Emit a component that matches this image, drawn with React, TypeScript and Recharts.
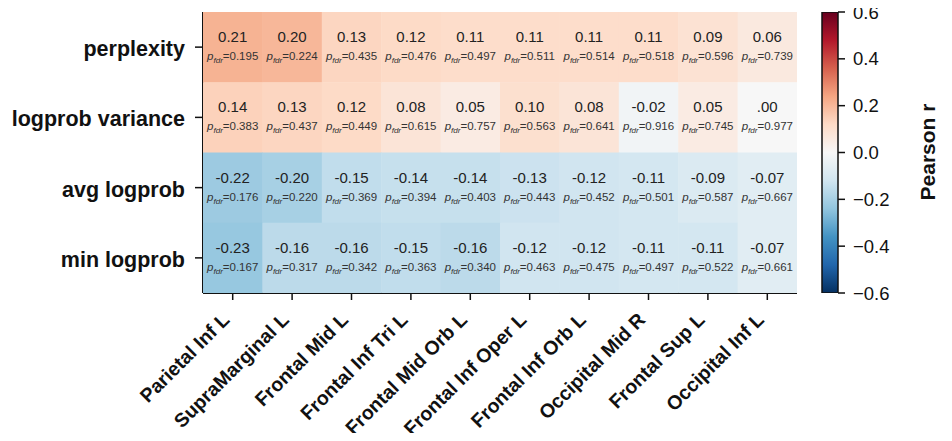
import { ScatterChart, Scatter, XAxis, YAxis, BarChart, Bar } from 'recharts';

const columns = [
  'Parietal Inf L', 'SupraMarginal L', 'Frontal Mid L', 'Frontal Inf Tri L', 'Frontal Mid Orb L',
  'Frontal Inf Oper L', 'Frontal Inf Orb L', 'Occipital Mid R', 'Frontal Sup L', 'Occipital Inf L',
];
const rows = ['perplexity', 'logprob variance', 'avg logprob', 'min logprob'];

// Pearson r per row
const rPerplexity = [0.21, 0.20, 0.13, 0.12, 0.11, 0.11, 0.11, 0.11, 0.09, 0.06];
const rLogprobVariance = [0.14, 0.13, 0.12, 0.08, 0.05, 0.10, 0.08, -0.02, 0.05, 0.00];
const rAvgLogprob = [-0.22, -0.20, -0.15, -0.14, -0.14, -0.13, -0.12, -0.11, -0.09, -0.07];
const rMinLogprob = [-0.23, -0.16, -0.16, -0.15, -0.16, -0.12, -0.12, -0.11, -0.11, -0.07];

// FDR-corrected p per row
const pPerplexity = [0.195, 0.224, 0.435, 0.476, 0.497, 0.511, 0.514, 0.518, 0.596, 0.739];
const pLogprobVariance = [0.383, 0.437, 0.449, 0.615, 0.757, 0.563, 0.641, 0.916, 0.745, 0.977];
const pAvgLogprob = [0.176, 0.220, 0.369, 0.394, 0.403, 0.443, 0.452, 0.501, 0.587, 0.667];
const pMinLogprob = [0.167, 0.317, 0.342, 0.363, 0.340, 0.463, 0.475, 0.497, 0.522, 0.661];

const colorbarTicks = [-0.6, -0.4, -0.2, 0, 0.2, 0.4, 0.6];

const rValues = [rPerplexity, rLogprobVariance, rAvgLogprob, rMinLogprob];
const pValues = [pPerplexity, pLogprobVariance, pAvgLogprob, pMinLogprob];

const cells = rows.flatMap((_, i) =>
  columns.map((_, j) => ({ x: j, y: i, r: rValues[i][j], p: pValues[i][j] }))
);

const FONT = '"Liberation Sans", Arial, Helvetica, sans-serif';
const CHART_W = 800;
const CHART_H = 425;
const MARGIN = { top: 4, right: 11, bottom: 0, left: 0 };
const Y_W = 195;
const X_H = 140;
const CELL_W = (CHART_W - MARGIN.left - MARGIN.right - Y_W) / columns.length;
const CELL_H = (CHART_H - MARGIN.top - MARGIN.bottom - X_H) / rows.length;

// RdBu_r, vmin -0.6 / vmax 0.6
const RDBU_R = ['#053061', '#2166ac', '#4393c3', '#92c5de', '#d1e5f0', '#f7f7f7', '#fddbc7', '#f4a582', '#d6604d', '#b2182b', '#67001f'];

const hex = (h: string) => [1, 3, 5].map(k => parseInt(h.slice(k, k + 2), 16));

const cmap = (v: number) => {
  const t = Math.min(1, Math.max(0, (v + 0.6) / 1.2)) * (RDBU_R.length - 1);
  const i = Math.min(RDBU_R.length - 2, Math.floor(t));
  const f = t - i;
  const a = hex(RDBU_R[i]);
  const b = hex(RDBU_R[i + 1]);
  const c = a.map((x, k) => Math.round(x + (b[k] - x) * f));
  return `rgb(${c[0]},${c[1]},${c[2]})`;
};

const fmtR = (v: number) => (Math.abs(v) < 0.005 ? '.00' : v.toFixed(2));

const CellShape = (props: any) => {
  const { cx, cy, payload } = props;
  if (cx == null || cy == null) return null;
  return (
    <g>
      <rect
        x={cx - CELL_W / 2}
        y={cy - CELL_H / 2}
        width={CELL_W + 0.5}
        height={CELL_H + 0.5}
        fill={cmap(payload.r)}
      />
      <text x={cx} y={cy - 5} textAnchor="middle" fontSize={15} fill="#222" fontFamily={FONT}>
        {fmtR(payload.r)}
      </text>
      <text x={cx} y={cy + 13} textAnchor="middle" fontSize={11.5} fill="#333" fontFamily={FONT}>
        <tspan fontStyle="italic">p</tspan>
        <tspan fontStyle="italic" fontSize={8} dy={3}>fdr</tspan>
        <tspan dy={-3}>={payload.p.toFixed(3)}</tspan>
      </text>
    </g>
  );
};

const RowTick = (props: any) => {
  const { x, y, payload } = props;
  return (
    <text x={x} y={y} dy={9} textAnchor="end" fontSize={21.5} fontWeight="bold" fill="#111" fontFamily={FONT}>
      {rows[payload.value]}
    </text>
  );
};

const ColTick = (props: any) => {
  const { x, y, payload } = props;
  const tx = x - 2;
  const ty = y + 19;
  return (
    <text
      x={tx}
      y={ty}
      textAnchor="end"
      fontSize={19.5}
      fontWeight="bold"
      fill="#111"
      fontFamily={FONT}
      transform={`rotate(-45, ${tx}, ${ty})`}
    >
      {columns[payload.value]}
    </text>
  );
};

const CbTick = (props: any) => {
  const { x, y, payload } = props;
  const v = payload.value;
  const label = (v < 0 ? '\u2212' : '') + Math.abs(v).toFixed(1);
  return (
    <text x={x} y={y} dy={6.5} textAnchor="start" fontSize={18.5} fill="#111" fontFamily={FONT}>
      {label}
    </text>
  );
};

const colorbarData = [{ name: 'cb', range: [-0.6, 0.6] }];

export default function App() {
  return (
    <div style={{ position: 'relative', width: 936, height: 425, fontFamily: FONT, background: '#fff' }}>
      <style>{'body{overflow:hidden} .recharts-surface{overflow:visible}'}</style>
      <svg width={0} height={0} style={{ position: 'absolute' }}>
        <defs>
          <linearGradient id="cbGrad" x1="0" y1="0" x2="0" y2="1">
            {RDBU_R.slice().reverse().map((c, i) => (
              <stop key={i} offset={`${(i / (RDBU_R.length - 1)) * 100}%`} stopColor={c} />
            ))}
          </linearGradient>
        </defs>
      </svg>

      <div style={{ position: 'absolute', left: 0, top: 0 }}>
        <ScatterChart width={CHART_W} height={CHART_H} margin={MARGIN}>
          <XAxis
            type="number"
            dataKey="x"
            domain={[-0.5, 9.5]}
            ticks={columns.map((_, i) => i)}
            interval={0}
            height={X_H}
            tick={<ColTick />}
            tickSize={7}
            axisLine={{ stroke: '#111', strokeWidth: 2 }}
            tickLine={{ stroke: '#111', strokeWidth: 1.5 }}
            allowDataOverflow
          />
          <YAxis
            type="number"
            dataKey="y"
            domain={[-0.5, 3.5]}
            reversed
            ticks={rows.map((_, i) => i)}
            interval={0}
            width={Y_W}
            tick={<RowTick />}
            tickSize={8}
            tickMargin={10}
            axisLine={{ stroke: '#111', strokeWidth: 2 }}
            tickLine={{ stroke: '#111', strokeWidth: 1.5 }}
            allowDataOverflow
          />
          <Scatter data={cells} shape={<CellShape />} isAnimationActive={false} />
        </ScatterChart>
      </div>

      <div style={{ position: 'absolute', left: 814, top: 0 }}>
        <BarChart
          width={122}
          height={CHART_H}
          data={colorbarData}
          margin={{ top: 4, right: 0, bottom: 140, left: 0 }}
          barCategoryGap={0}
        >
          <XAxis dataKey="name" hide />
          <YAxis
            orientation="right"
            type="number"
            domain={[-0.6, 0.6]}
            ticks={colorbarTicks}
            interval={0}
            width={106}
            tickSize={7}
            tickMargin={8}
            axisLine={false}
            tickLine={{ stroke: '#111', strokeWidth: 1.5 }}
            tick={<CbTick />}
            allowDataOverflow
          />
          <Bar dataKey="range" fill="url(#cbGrad)" stroke="#111" strokeWidth={1.5} isAnimationActive={false} />
        </BarChart>
      </div>

      <div
        style={{
          position: 'absolute',
          left: 920,
          top: 144,
          transform: 'translate(-50%, -50%) rotate(-90deg)',
          fontSize: 21,
          fontWeight: 'bold',
          color: '#111',
          whiteSpace: 'nowrap',
        }}
      >
        Pearson r
      </div>
    </div>
  );
}
